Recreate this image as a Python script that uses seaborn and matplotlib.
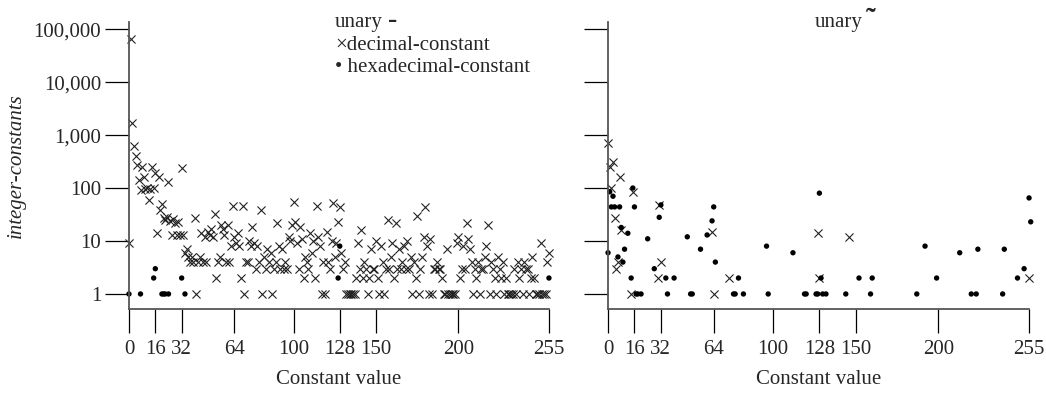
import numpy as np
import pandas as pd
import matplotlib
matplotlib.use("Agg")
import matplotlib.pyplot as plt
from matplotlib.ticker import FixedLocator, FuncFormatter, NullLocator
import seaborn as sns

# --- data (counts per constant value) ---
# unary minus, decimal constants: one count for every value 0..255
minus_dec_y = [
    9, 65000, 1700, 620, 400, 270, 140, 92, 250, 160, 95, 100, 60, 95, 250, 100,
    190, 14, 160, 38, 50, 27, 25, 28, 130, 24, 13, 26, 22, 13, 23, 13,
    240, 13, 6, 7, 5, 4, 5, 4, 27, 1, 4, 5, 14, 4, 12, 4,
    15, 13, 17, 12, 33, 2, 4, 5, 20, 17, 13, 4, 20, 4, 8, 45,
    12, 9, 14, 8, 2, 45, 1, 4, 4, 10, 8, 18, 9, 3, 8, 4,
    38, 1, 5, 3, 7, 4, 6, 1, 3, 4, 22, 8, 3, 7, 3, 4,
    3, 12, 10, 20, 55, 23, 9, 3, 18, 11, 2, 5, 4, 3, 14, 6,
    10, 2, 45, 12, 8, 1, 4, 1, 15, 4, 3, 10, 52, 5, 9, 23,
    44, 6, 3, 4, 1, 1, 1, 1, 1, 1, 2, 9, 3, 16, 2, 4,
    3, 1, 2, 7, 3, 3, 10, 2, 1, 8, 4, 1, 3, 25, 3, 5,
    9, 2, 22, 3, 7, 3, 4, 8, 3, 10, 3, 5, 1, 4, 2, 30,
    1, 3, 5, 12, 44, 8, 1, 11, 1, 3, 3, 4, 3, 3, 2, 1,
    1, 7, 1, 1, 1, 1, 1, 9, 12, 2, 3, 8, 3, 22, 11, 7,
    4, 1, 3, 2, 4, 1, 3, 3, 5, 8, 20, 1, 4, 3, 2, 1,
    5, 3, 2, 4, 1, 2, 1, 1, 1, 1, 3, 1, 4, 2, 3, 1,
    4, 3, 3, 1, 2, 5, 2, 1, 1, 1, 9, 1, 1, 1, 4, 6,
]
minus_dec_x = list(range(len(minus_dec_y)))

# unary minus, hexadecimal constants
minus_hex_x = [0, 7, 15, 16, 20, 21, 22, 24, 32, 34, 127, 128, 255]
minus_hex_y = [1, 1, 2, 3, 1, 1, 1, 1, 2, 1, 2, 8, 2]

# unary ~, decimal constants
tilde_dec_x = [0, 1, 2, 3, 4, 5, 6, 7, 8, 14, 15, 30, 31, 32, 63, 64, 73, 127, 128, 146, 255]
tilde_dec_y = [700, 250, 100, 310, 27, 3, 4, 160, 16, 1, 85, 2, 48, 4, 15, 1, 2, 14, 2, 12, 2]

# unary ~, hexadecimal constants
tilde_hex_x = [0, 1, 2, 3, 4, 6, 7, 8, 9, 10, 12, 14, 15, 16, 17, 18, 20, 24, 28, 31,
               32, 35, 36, 40, 48, 50, 51, 56, 60, 63, 64, 65, 76, 77, 79, 82, 96, 97,
               112, 119, 120, 126, 127, 128, 129, 130, 132, 144, 152, 159, 160, 187,
               192, 199, 213, 220, 223, 224, 239, 240, 248, 252, 255, 256]
tilde_hex_y = [6, 85, 44, 70, 44, 5, 44, 18, 4, 7, 14, 2, 100, 44, 1, 1, 1, 11, 3, 28,
               48, 2, 1, 2, 12, 1, 1, 7, 13, 24, 44, 4, 1, 1, 2, 1, 8, 1,
               6, 1, 1, 1, 1, 80, 2, 1, 1, 1, 2, 1, 2, 1,
               8, 2, 6, 1, 1, 7, 1, 7, 2, 3, 65, 23]

x_ticks = [0, 16, 32, 64, 100, 128, 150, 200, 255]
y_ticks = [1, 10, 100, 1000, 10000, 100000]

sns.set_theme(style="white")
plt.rcParams["font.family"] = ["Liberation Serif", "DejaVu Serif"]
FS = 15

fig = plt.figure(figsize=(10.46, 3.94), dpi=100)
ax_l = fig.add_axes([0.1233, 0.2157, 0.4015, 0.7284])
ax_r = fig.add_axes([0.5813, 0.2157, 0.4025, 0.7284])

spine_col = "#555555"


def draw_panel(ax, dec_x, dec_y, hex_x, hex_y, show_ylabels):
    dec = pd.DataFrame({"x": dec_x, "y": dec_y})
    hexa = pd.DataFrame({"x": hex_x, "y": hex_y})
    sns.scatterplot(data=dec, x="x", y="y", ax=ax, marker="x", s=34,
                    color="#222222", linewidth=0.8, clip_on=False, legend=False)
    sns.scatterplot(data=hexa, x="x", y="y", ax=ax, marker="o", s=15,
                    color="black", edgecolor="none", clip_on=False, legend=False)
    ax.set_yscale("log")
    ax.set_xlim(0, 255)
    ax.set_ylim(0.52, 1.36e5)
    ax.xaxis.set_major_locator(FixedLocator(x_ticks))
    ax.yaxis.set_major_locator(FixedLocator(y_ticks))
    ax.yaxis.set_minor_locator(NullLocator())
    ax.xaxis.set_minor_locator(NullLocator())
    ax.yaxis.set_major_formatter(FuncFormatter(lambda v, p: f"{int(round(v)):,}"))
    if not show_ylabels:
        ax.set_yticklabels([])
    for side in ["top", "right"]:
        ax.spines[side].set_visible(False)
    for side in ["left", "bottom"]:
        ax.spines[side].set_color(spine_col)
        ax.spines[side].set_linewidth(1.3)
    ax.tick_params(axis="both", direction="out", length=17, width=0.9,
                   color="black", labelsize=FS, left=True, bottom=True)
    ax.tick_params(axis="x", pad=5)
    ax.tick_params(axis="y", pad=3)
    ax.set_xlabel("Constant value", fontsize=FS, labelpad=8)
    ax.set_ylabel("")
    ax.set_facecolor("white")


draw_panel(ax_l, minus_dec_x, minus_dec_y, minus_hex_x, minus_hex_y, True)
draw_panel(ax_r, tilde_dec_x, tilde_dec_y, tilde_hex_x, tilde_hex_y, False)

ax_l.set_ylabel("integer-constants", fontsize=FS, style="italic")
ax_l.yaxis.set_label_coords(-0.245, 0.5)


def px(x, y):
    return x / 1046, 1 - y / 394


# legend-style annotations
fig.text(*px(335, 22), "unary", fontsize=FS, va="center", ha="left")
fig.text(*px(388, 21), "-", fontsize=20, fontweight="bold", va="center", ha="left")
fig.text(*px(335, 45), "\u00d7decimal-constant", fontsize=FS, va="center", ha="left")
fig.text(*px(335, 68), "\u2022 hexadecimal-constant", fontsize=FS, va="center", ha="left")
fig.text(*px(815, 22), "unary", fontsize=FS, va="center", ha="left")
fig.text(*px(866, 28), "\u02dc", fontsize=21, fontweight="bold", va="baseline", ha="left")

fig.savefig("out.png", dpi=100, facecolor="white")
